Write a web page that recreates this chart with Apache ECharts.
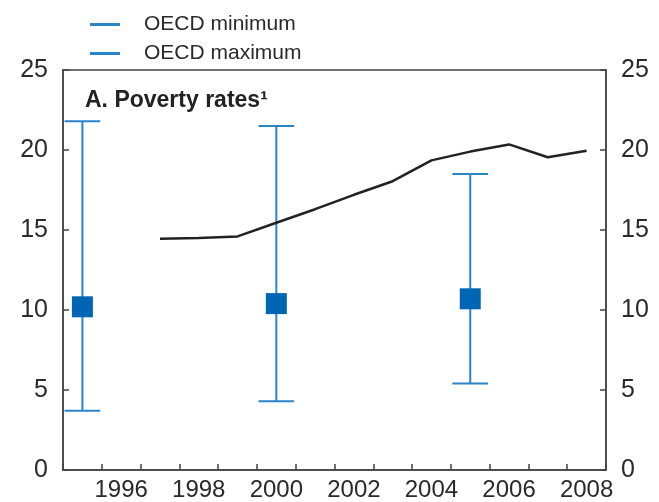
<!DOCTYPE html>
<html>
<head>
<meta charset="utf-8">
<script src="https://cdn.jsdelivr.net/npm/echarts@6/dist/echarts.min.js"></script>
<style>html,body{margin:0;padding:0;background:#fff}#c{width:659px;height:502px}</style>
</head>
<body>
<div id="c"></div>
<script>
const years = ['1995','1996','1997','1998','1999','2000','2001','2002','2003','2004','2005','2006','2007','2008'];
const povertyRate = [null, null, 14.45, 14.5, 14.6, 15.45, 16.3, 17.2, 18.05, 19.35, 19.9, 20.35, 19.55, 19.95];
const oecdYears = ['1995', '2000', '2005'];
const oecdMin = [3.7, 4.3, 5.4];
const oecdMax = [21.8, 21.5, 18.5];
const oecdAvg = [10.2, 10.4, 10.7];
const yTicks = [0, 5, 10, 15, 20, 25];

const barColor = '#2a84c8';
const markColor = '#0066b3';
const axisColor = '#444';
const font = 'Liberation Sans, Arial, Helvetica, sans-serif';

function halfBar(params, api) {
  const x = api.value(0);
  const end = api.value(1);
  const mid = api.value(2);
  const p1 = api.coord([x, mid]);
  const p2 = api.coord([x, end]);
  const half = api.size([1, 0])[0] * 0.46;
  const st = { stroke: barColor, lineWidth: 2 };
  return {
    type: 'group',
    children: [
      { type: 'line', shape: { x1: p1[0], y1: p1[1], x2: p2[0], y2: p2[1] }, style: st },
      { type: 'line', shape: { x1: p2[0] - half, y1: p2[1], x2: p2[0] + half, y2: p2[1] }, style: st }
    ]
  };
}

const chart = echarts.init(document.getElementById('c'), null, { renderer: 'canvas' });
const yAxisCommon = {
  type: 'value', min: 0, max: 25, interval: 5,
  axisLine: { show: true, lineStyle: { color: axisColor, width: 1.5 } },
  axisTick: { show: true, inside: true, length: 6, lineStyle: { color: axisColor, width: 1.5 } },
  splitLine: { show: false },
  axisLabel: { fontSize: 25, color: '#2a2a2a', fontFamily: font, margin: 15,
    formatter: v => yTicks.includes(v) ? String(v) : '' }
};
chart.setOption({
  animation: false,
  backgroundColor: '#fff',
  textStyle: { fontFamily: font },
  title: {
    text: 'A. Poverty rates¹', left: 80, top: 84,
    textStyle: { fontSize: 23, fontWeight: 'bold', color: '#222', fontFamily: font }
  },
  legend: {
    data: ['OECD minimum', 'OECD maximum'],
    orient: 'vertical', left: 85, top: 9, itemGap: 8,
    itemWidth: 30, itemHeight: 3, icon: 'rect', selectedMode: false,
    textStyle: { fontSize: 21, color: '#2a2a2a', fontFamily: font, padding: [0, 0, 0, 19] }
  },
  grid: { left: 63, right: 53, top: 70, bottom: 32, show: true, borderColor: axisColor, borderWidth: 1.5, backgroundColor: 'transparent' },
  xAxis: {
    type: 'category', data: years, boundaryGap: true,
    axisLine: { show: true, lineStyle: { color: axisColor, width: 1.5 } },
    axisTick: { show: true, inside: true, length: 6, interval: 0, lineStyle: { color: axisColor, width: 1.5 } },
    axisLabel: { fontSize: 24, color: '#2a2a2a', fontFamily: font, margin: 8, interval: (i) => i % 2 === 1 }
  },
  yAxis: [
    Object.assign({}, yAxisCommon, { position: 'left' }),
    Object.assign({}, yAxisCommon, { position: 'right' })
  ],
  series: [
    {
      name: 'Poverty rate', type: 'line', data: povertyRate, symbol: 'none',
      lineStyle: { color: '#222', width: 2.5 }, itemStyle: { color: '#222' }, connectNulls: false, z: 3
    },
    {
      name: 'OECD minimum', type: 'custom', renderItem: halfBar,
      itemStyle: { color: barColor },
      data: oecdYears.map((y, i) => [y, oecdMin[i], oecdAvg[i]]),
      encode: { x: 0, y: [1, 2] }, z: 2
    },
    {
      name: 'OECD maximum', type: 'custom', renderItem: halfBar,
      itemStyle: { color: barColor },
      data: oecdYears.map((y, i) => [y, oecdMax[i], oecdAvg[i]]),
      encode: { x: 0, y: [1, 2] }, z: 2
    },
    {
      name: 'OECD average', type: 'scatter', symbol: 'rect', symbolSize: 21,
      itemStyle: { color: markColor, opacity: 1 },
      data: oecdYears.map((y, i) => [y, oecdAvg[i]]), z: 4
    }
  ]
});
</script>
</body>
</html>
